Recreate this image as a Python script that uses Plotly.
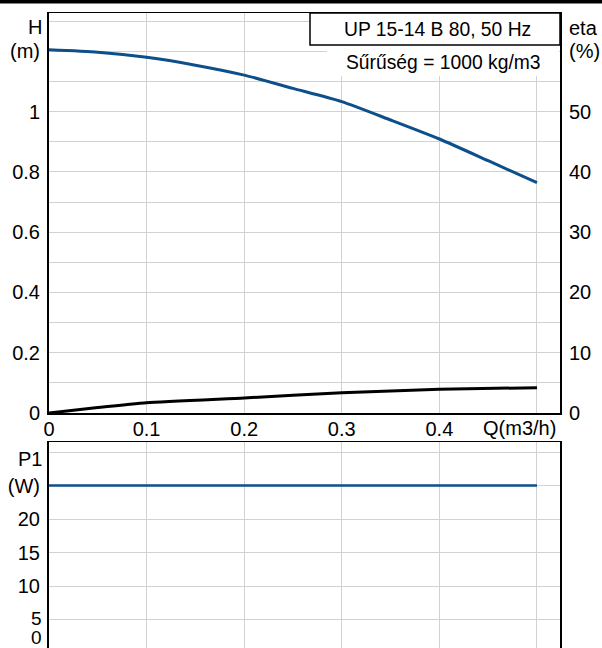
import plotly.graph_objects as go

# ---- data ----
q_h = [0.0, 0.05, 0.1, 0.15, 0.2, 0.25, 0.3, 0.35, 0.4, 0.45, 0.5]
h_m = [1.205, 1.197, 1.180, 1.154, 1.121, 1.077, 1.033, 0.972, 0.909, 0.837, 0.764]
q_eta = [0.0, 0.05, 0.1, 0.2, 0.3, 0.4, 0.5]
eta_pct = [0.0, 0.9, 1.7, 2.5, 3.35, 3.95, 4.2]
q_p1 = [0.0, 0.5]
p1_w = [25.0, 25.0]

x_ticks = [0, 0.1, 0.2, 0.3, 0.4, 0.5]
x_labels = ["0", "0.1", "0.2", "0.3", "0.4", ""]
h_ticks = [0, 0.1, 0.2, 0.3, 0.4, 0.5, 0.6, 0.7, 0.8, 0.9, 1.0, 1.1, 1.2, 1.3]
h_labels = ["0", "", "0.2", "", "0.4", "", "0.6", "", "0.8", "", "1", "", "(m)", ""]
eta_ticks = [0, 10, 20, 30, 40, 50, 60]
eta_labels = ["0", "10", "20", "30", "40", "50", "(%)"]
p_ticks = [5, 10, 15, 20, 25, 30]
p_labels = ["", "10", "15", "20", "(W)", ""]

title_text = "UP 15-14 B 80, 50 Hz"
density_text = "Sűrűség = 1000 kg/m3"

# ---- layout geometry (pixels) ----
W, H = 602, 648
ML, MR, MT, MB = 49, 42, 13, 0
PW = W - ML - MR
PH = H - MT - MB


def px_x(p):
    return (p - ML) / PW


def px_y(p):
    return (H - MB - p) / PH


FONT = dict(family="Liberation Sans, Arial, sans-serif", size=20, color="#000000")
TFONT = dict(family="Liberation Sans, Arial, sans-serif", size=19.3, color="#000000")
SFONT = dict(family="Liberation Sans, Arial, sans-serif", size=19, color="#000000")
BLUE = "#0d4f8b"
GRID = "#d2d2d2"

fig = go.Figure()
fig.add_trace(go.Scatter(x=q_h, y=h_m, mode="lines", line=dict(color=BLUE, width=3, shape="spline", smoothing=0.6),
                         xaxis="x", yaxis="y", showlegend=False, hoverinfo="skip"))
fig.add_trace(go.Scatter(x=q_eta, y=eta_pct, mode="lines", line=dict(color="#000000", width=3, shape="spline", smoothing=0.5),
                         xaxis="x", yaxis="y2", showlegend=False, hoverinfo="skip"))
fig.add_trace(go.Scatter(x=q_p1, y=p1_w, mode="lines", line=dict(color=BLUE, width=2.5),
                         xaxis="x2", yaxis="y3", showlegend=False, hoverinfo="skip"))

xr = [0, 0.5236]
top_dom = [px_y(413), 1]
bot_dom = [0, px_y(442)]

fig.update_layout(
    width=W, height=H,
    margin=dict(l=ML, r=MR, t=MT, b=MB, autoexpand=False),
    paper_bgcolor="white", plot_bgcolor="white",
    font=FONT,
    xaxis=dict(domain=[0, 1], range=xr, tickvals=x_ticks, ticktext=x_labels, showgrid=True, gridcolor=GRID,
               gridwidth=1, zeroline=False, showline=True, linecolor="black", linewidth=1.5, mirror=True,
               ticks="", ticklabelstandoff=-3, anchor="y", fixedrange=True, automargin=False),
    yaxis=dict(domain=top_dom, range=[0, 1.327], tickvals=h_ticks, ticktext=h_labels, showgrid=True,
               gridcolor=GRID, gridwidth=1, zeroline=False, showline=True, linecolor="black", linewidth=2,
               mirror=True, ticks="", ticklabelstandoff=3, anchor="x", automargin=False),
    yaxis2=dict(overlaying="y", side="right", range=[0, 66.35], tickvals=eta_ticks, ticktext=eta_labels,
                showgrid=False, zeroline=False, showline=False, ticks="", ticklabelstandoff=8, anchor="x",
                automargin=False),
    xaxis2=dict(domain=[0, 1], range=xr, tickvals=x_ticks, showticklabels=False, showgrid=True, gridcolor=GRID,
                gridwidth=1, zeroline=False, showline=True, linecolor="black", linewidth=1.5, side="top",
                ticks="", anchor="y3", automargin=False),
    yaxis3=dict(domain=bot_dom, range=[0.75, 31.5], tickvals=p_ticks, ticktext=p_labels, showgrid=True,
                gridcolor=GRID, gridwidth=1, zeroline=False, showline=True, linecolor="black", linewidth=2,
                mirror=True, ticks="", ticklabelstandoff=3, anchor="x2", automargin=False),
)

shapes = [
    dict(type="rect", xref="paper", yref="paper", x0=px_x(0), x1=px_x(W), y0=px_y(3.5), y1=px_y(0),
         fillcolor="black", line=dict(width=0), layer="above"),
    dict(type="rect", xref="paper", yref="paper", x0=px_x(327), x1=px_x(559), y0=px_y(76), y1=px_y(45),
         fillcolor="white", line=dict(width=0), layer="above"),
    dict(type="rect", xref="paper", yref="paper", x0=px_x(310), x1=1, y0=px_y(45), y1=1,
         fillcolor="white", line=dict(color="black", width=1.5), layer="above"),
]
fig.update_layout(shapes=shapes)

ann = [
    dict(text=title_text, x=px_x(437), y=px_y(29), xanchor="center", yanchor="middle", font=TFONT),
    dict(text=density_text, x=px_x(543), y=px_y(62), xanchor="right", yanchor="middle", font=TFONT),
    dict(text="H", x=px_x(44), y=px_y(27), xanchor="right", yanchor="middle", font=FONT),
    dict(text="eta", x=px_x(567), y=px_y(28), xanchor="left", yanchor="middle", font=FONT),
    dict(text="Q(m3/h)", x=px_x(558), y=px_y(428), xanchor="right", yanchor="middle", font=FONT),
    dict(text="P1", x=px_x(44), y=px_y(459), xanchor="right", yanchor="middle", font=FONT),
    dict(text="5", x=px_x(44), y=px_y(618), xanchor="right", yanchor="middle", font=SFONT),
    dict(text="0", x=px_x(44), y=px_y(637.5), xanchor="right", yanchor="middle", font=SFONT),
]
for a in ann:
    a.update(xref="paper", yref="paper", showarrow=False)
fig.update_layout(annotations=ann)

fig.write_html("out.html", config={"displayModeBar": False, "staticPlot": True},
               post_script="document.body.style.margin='0';document.body.style.overflow='hidden';")
